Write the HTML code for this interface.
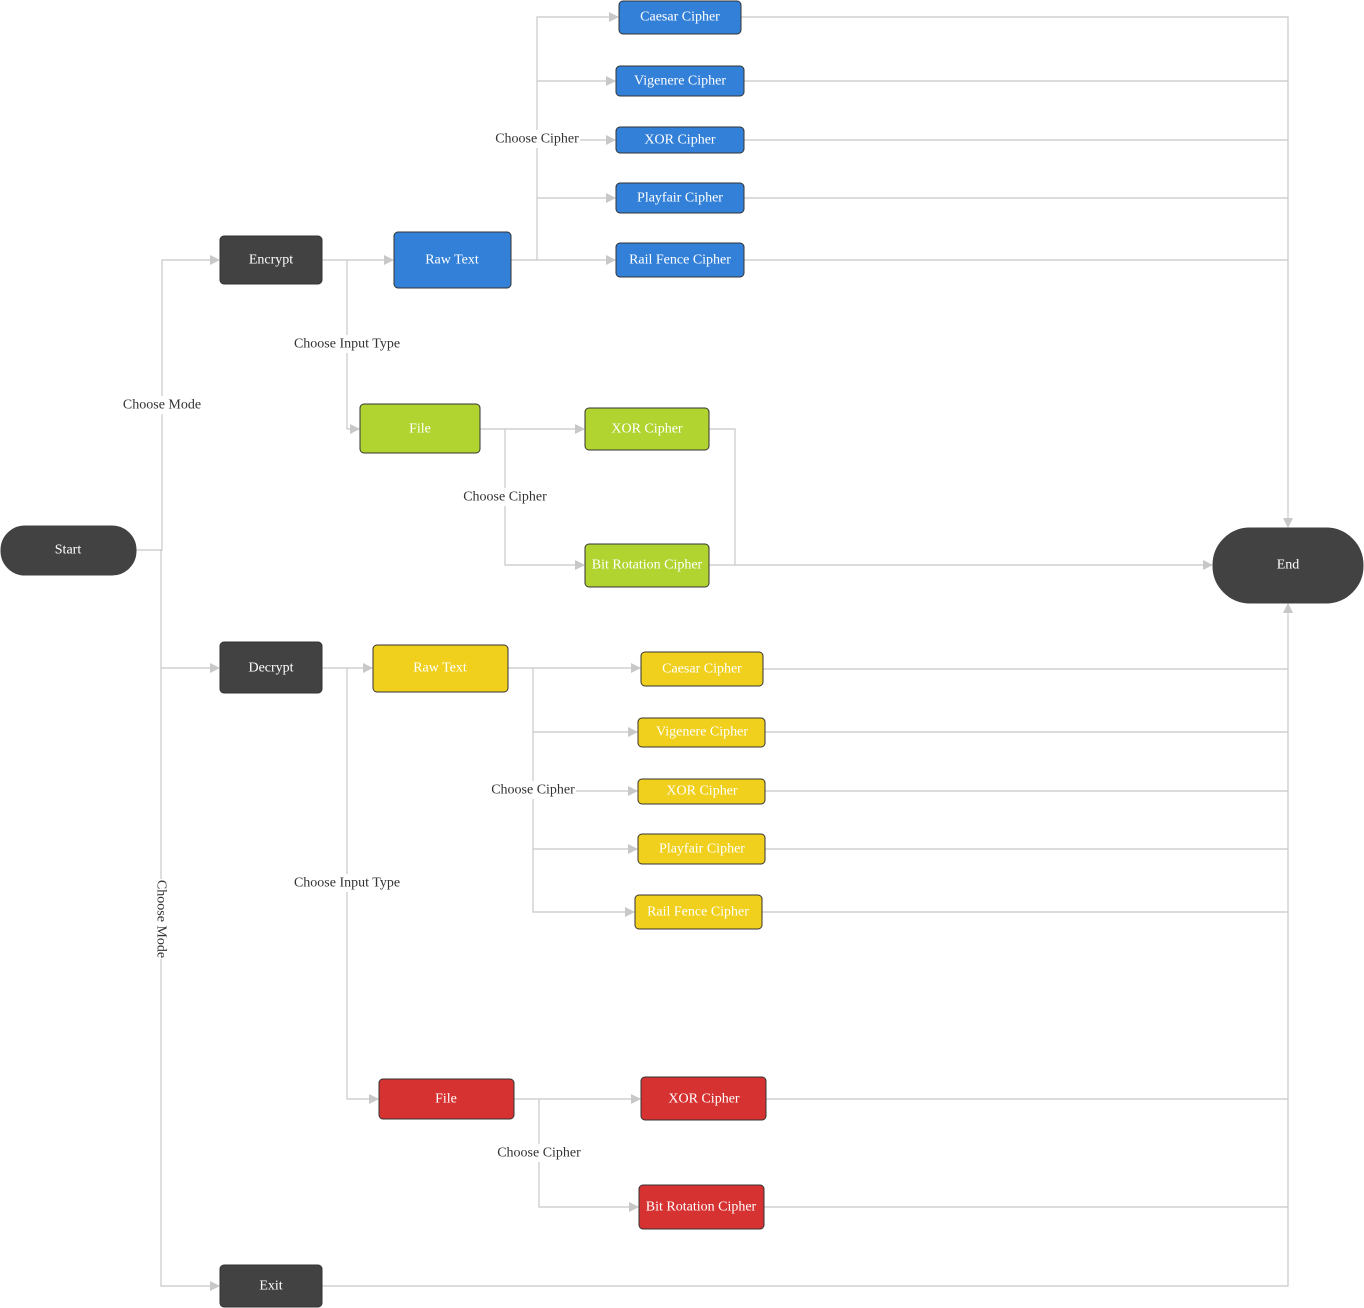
<!DOCTYPE html>
<html><head><meta charset="utf-8"><style>
html,body{margin:0;padding:0;background:#fff;}
svg{display:block;font-family:"Liberation Serif",serif;}
.n text{fill:#fff;font-size:14px;text-anchor:middle;dominant-baseline:central;}
.l{fill:#333;font-size:14px;text-anchor:middle;dominant-baseline:central;}
path.c{fill:none;stroke:#c8c8c8;stroke-width:1.2;}
</style></head><body>
<svg width="1364" height="1308" viewBox="0 0 1364 1308" xmlns="http://www.w3.org/2000/svg">
<defs><marker id="a" markerWidth="10" markerHeight="10" refX="9" refY="5" orient="auto" markerUnits="userSpaceOnUse"><path d="M0,0 L10,5 L0,10 z" fill="#c8c8c8"/></marker></defs>
<g>
<!-- start branches -->
<path class="c" d="M136,550 H162 V260 H219" marker-end="url(#a)"/>
<path class="c" d="M162,550 H161 V668 H219" marker-end="url(#a)"/>
<path class="c" d="M161,668 V1286 H219" marker-end="url(#a)"/>
<!-- encrypt -->
<path class="c" d="M322,260 H393" marker-end="url(#a)"/>
<path class="c" d="M347,260 V429 H359" marker-end="url(#a)"/>
<!-- blue raw -->
<path class="c" d="M511,260 H615" marker-end="url(#a)"/>
<path class="c" d="M537,260 V17 H618" marker-end="url(#a)"/>
<path class="c" d="M537,81 H615" marker-end="url(#a)"/>
<path class="c" d="M537,140 H615" marker-end="url(#a)"/>
<path class="c" d="M537,198 H615" marker-end="url(#a)"/>
<!-- blue to end -->
<path class="c" d="M741,17 H1288 V527" marker-end="url(#a)"/>
<path class="c" d="M744,81 H1288"/>
<path class="c" d="M744,140 H1288"/>
<path class="c" d="M744,198 H1288"/>
<path class="c" d="M744,260 H1288"/>
<!-- green -->
<path class="c" d="M480,429 H584" marker-end="url(#a)"/>
<path class="c" d="M505,429 V565 H584" marker-end="url(#a)"/>
<path class="c" d="M709,429 H735 V565"/>
<path class="c" d="M709,565 H1212" marker-end="url(#a)"/>
<!-- decrypt -->
<path class="c" d="M322,668 H372" marker-end="url(#a)"/>
<path class="c" d="M347,668 V1099 H378" marker-end="url(#a)"/>
<path class="c" d="M508,668 H640" marker-end="url(#a)"/>
<path class="c" d="M533,668 V912 H634" marker-end="url(#a)"/>
<path class="c" d="M533,732 H637" marker-end="url(#a)"/>
<path class="c" d="M533,791 H637" marker-end="url(#a)"/>
<path class="c" d="M533,849 H637" marker-end="url(#a)"/>
<!-- red -->
<path class="c" d="M514,1099 H640" marker-end="url(#a)"/>
<path class="c" d="M539,1099 V1207 H638" marker-end="url(#a)"/>
<!-- to end bottom -->
<path class="c" d="M322,1286 H1288 V604" marker-end="url(#a)"/>
<path class="c" d="M763,669 H1288"/>
<path class="c" d="M765,732 H1288"/>
<path class="c" d="M765,791 H1288"/>
<path class="c" d="M765,849 H1288"/>
<path class="c" d="M762,912 H1288"/>
<path class="c" d="M766,1099 H1288"/>
<path class="c" d="M764,1207 H1288"/>
</g>
<!-- labels -->
<g>
<rect x="122" y="396" width="80" height="18" fill="#fff"/><text class="l" x="162" y="405">Choose Mode</text>
<rect x="293" y="335" width="108" height="18" fill="#fff"/><text class="l" x="347" y="344">Choose Input Type</text>
<rect x="494" y="130" width="86" height="18" fill="#fff"/><text class="l" x="537" y="139">Choose Cipher</text>
<rect x="462" y="488" width="86" height="18" fill="#fff"/><text class="l" x="505" y="497">Choose Cipher</text>
<rect x="293" y="874" width="108" height="18" fill="#fff"/><text class="l" x="347" y="883">Choose Input Type</text>
<rect x="490" y="781" width="86" height="18" fill="#fff"/><text class="l" x="533" y="790">Choose Cipher</text>
<rect x="496" y="1144" width="86" height="18" fill="#fff"/><text class="l" x="539" y="1153">Choose Cipher</text>
<rect x="152" y="879" width="18" height="80" fill="#fff"/><text class="l" x="161" y="919" transform="rotate(90 161 919)">Choose Mode</text>
</g>
<!-- nodes -->
<g class="n" stroke="#333" stroke-width="1">
<rect x="1" y="526" width="135" height="49" rx="24" fill="#424242" stroke="#424242"/><text x="68" y="550" stroke="none">Start</text>
<rect x="1213" y="528" width="150" height="75" rx="37" fill="#424242" stroke="#424242"/><text x="1288" y="565" stroke="none">End</text>
<rect x="220" y="236" width="102" height="48" rx="4" fill="#424242"/><text x="271" y="260" stroke="none">Encrypt</text>
<rect x="220" y="642" width="102" height="51" rx="4" fill="#424242"/><text x="271" y="668" stroke="none">Decrypt</text>
<rect x="220" y="1265" width="102" height="42" rx="4" fill="#424242"/><text x="271" y="1286" stroke="none">Exit</text>

<rect x="394" y="232" width="117" height="56" rx="4" fill="#3380d8"/><text x="452" y="260" stroke="none">Raw Text</text>
<rect x="619" y="1" width="122" height="33" rx="4" fill="#3380d8"/><text x="680" y="17" stroke="none">Caesar Cipher</text>
<rect x="616" y="66" width="128" height="30" rx="4" fill="#3380d8"/><text x="680" y="81" stroke="none">Vigenere Cipher</text>
<rect x="616" y="127" width="128" height="26" rx="4" fill="#3380d8"/><text x="680" y="140" stroke="none">XOR Cipher</text>
<rect x="616" y="183" width="128" height="30" rx="4" fill="#3380d8"/><text x="680" y="198" stroke="none">Playfair Cipher</text>
<rect x="616" y="243" width="128" height="34" rx="4" fill="#3380d8"/><text x="680" y="260" stroke="none">Rail Fence Cipher</text>

<rect x="360" y="404" width="120" height="49" rx="4" fill="#b2d430"/><text x="420" y="429" stroke="none">File</text>
<rect x="585" y="408" width="124" height="42" rx="4" fill="#b2d430"/><text x="647" y="429" stroke="none">XOR Cipher</text>
<rect x="585" y="544" width="124" height="43" rx="4" fill="#b2d430"/><text x="647" y="565" stroke="none">Bit Rotation Cipher</text>

<rect x="373" y="645" width="135" height="47" rx="4" fill="#f0d01c"/><text x="440" y="668" stroke="none">Raw Text</text>
<rect x="641" y="652" width="122" height="34" rx="4" fill="#f0d01c"/><text x="702" y="669" stroke="none">Caesar Cipher</text>
<rect x="638" y="718" width="127" height="29" rx="4" fill="#f0d01c"/><text x="702" y="732" stroke="none">Vigenere Cipher</text>
<rect x="638" y="779" width="127" height="25" rx="4" fill="#f0d01c"/><text x="702" y="791" stroke="none">XOR Cipher</text>
<rect x="638" y="834" width="127" height="30" rx="4" fill="#f0d01c"/><text x="702" y="849" stroke="none">Playfair Cipher</text>
<rect x="635" y="895" width="127" height="34" rx="4" fill="#f0d01c"/><text x="698" y="912" stroke="none">Rail Fence Cipher</text>

<rect x="379" y="1079" width="135" height="40" rx="4" fill="#d63232"/><text x="446" y="1099" stroke="none">File</text>
<rect x="641" y="1077" width="125" height="43" rx="4" fill="#d63232"/><text x="704" y="1099" stroke="none">XOR Cipher</text>
<rect x="639" y="1185" width="125" height="44" rx="4" fill="#d63232"/><text x="701" y="1207" stroke="none">Bit Rotation Cipher</text>
</g>
</svg>
</body></html>
